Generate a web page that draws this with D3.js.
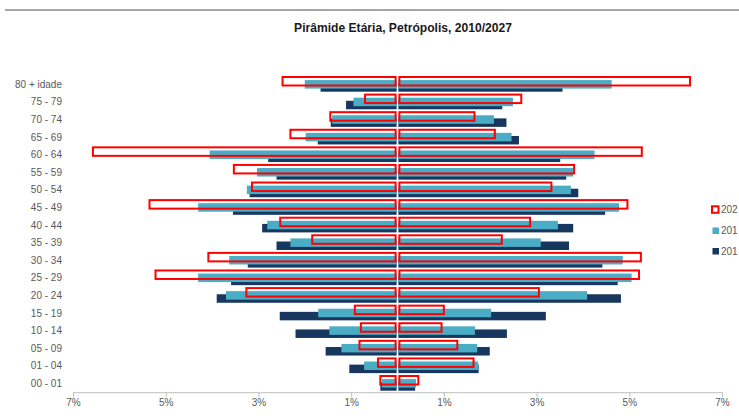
<!DOCTYPE html>
<html>
<head>
<meta charset="utf-8">
<script src="https://cdn.jsdelivr.net/npm/d3@7"></script>
<style>
  body { margin: 0; background: #fff; }
  svg { display: block; font-family: "Liberation Sans", Arial, sans-serif; }
</style>
</head>
<body>
<svg width="739" height="418"></svg>
<script>
  // age groups, top to bottom
  const ageGroups = ['80 + idade', '75 - 79', '70 - 74', '65 - 69', '60 - 64', '55 - 59', '50 - 54', '45 - 49',
    '40 - 44', '35 - 39', '30 - 34', '25 - 29', '20 - 24', '15 - 19', '10 - 14', '05 - 09', '01 - 04', '00 - 01']

  // % of population, left side and right side
  const left2010 = [1.66, 1.11, 1.44, 1.72, 2.79, 2.61, 3.19, 3.55, 2.92, 2.61, 3.23, 3.59, 3.90, 2.54, 2.20, 1.55, 1.04, 0.37]
  const right2010 = [3.56, 2.26, 2.35, 2.62, 3.51, 3.64, 3.90, 4.48, 3.79, 3.70, 4.42, 4.75, 4.82, 3.20, 2.36, 1.99, 1.75, 0.38]
  const left2017 = [2.00, 0.95, 1.41, 1.98, 4.05, 3.03, 3.25, 4.30, 2.81, 2.31, 3.63, 4.30, 3.70, 1.71, 1.47, 1.21, 0.72, 0.34]
  const right2017 = [4.62, 2.49, 2.08, 2.46, 4.25, 3.79, 3.74, 4.78, 3.46, 3.09, 4.86, 5.05, 4.09, 2.02, 1.67, 1.72, 1.74, 0.40]
  const left2027 = [2.48, 0.70, 1.45, 2.31, 6.57, 3.53, 3.14, 5.35, 2.53, 1.84, 4.08, 5.22, 3.26, 0.92, 0.79, 0.82, 0.42, 0.37]
  const right2027 = [6.31, 2.67, 1.66, 2.10, 5.27, 3.81, 3.32, 4.96, 2.86, 2.25, 5.25, 5.21, 3.05, 1.00, 0.95, 1.29, 1.64, 0.45]

  const tickValues = [-7, -5, -3, -1, 1, 3, 5, 7]
  // legend text as it shows in the picture (cut by the chart edge)
  const legendLabels = ['202', '201', '201']

  const navy = '#17375e'
  const aqua = '#4bacc6'
  const red = '#ff0000'

  const svg = d3.select('svg')

  const x = d3.scaleLinear().domain([-7, 7]).range([73, 722])
  const y = d3.scaleBand().domain(ageGroups).range([75.6, 392.2])
  const x0 = x(0)
  const gap = 0.9

  // top rule
  svg.append('line')
    .attr('x1', 5).attr('x2', 739).attr('y1', 10).attr('y2', 10)
    .attr('stroke', '#a6a6a6').attr('stroke-width', 2)

  // title, fitted to the width seen in the picture
  const title = svg.append('text')
    .attr('x', 403).attr('y', 31.5)
    .attr('text-anchor', 'middle')
    .attr('font-weight', 'bold')
    .attr('font-size', 12)
    .attr('fill', '#1a1a1a')
    .text('Pirâmide Etária, Petrópolis, 2010/2027')
  const tw = title.node().getComputedTextLength()
  title.attr('font-size', 12 * 218 / tw)

  // series: lowest bar first, red outline drawn last on top
  const series = [
    {left: left2010, right: right2010, off: -1.2, fill: navy, stroke: 'none', inset: 0},
    {left: left2017, right: right2017, off: -4.3, fill: aqua, stroke: 'none', inset: 0},
    {left: left2027, right: right2027, off: -7.4, fill: 'none', stroke: red, inset: 1}
  ]
  const barH = 8.5

  series.forEach(s => {
    const g = svg.append('g')
    const rows = ageGroups.map((a, i) => ({age: a, l: s.left[i], r: s.right[i]}))
    const cy = d => y(d.age) + y.bandwidth() / 2 + s.off

    g.selectAll('.l').data(rows).enter().append('rect')
      .attr('x', d => x(-d.l))
      .attr('y', cy)
      .attr('width', d => x0 - gap - s.inset - x(-d.l))
      .attr('height', barH)
      .attr('fill', s.fill)
      .attr('stroke', s.stroke)
      .attr('stroke-width', 2)

    g.selectAll('.r').data(rows).enter().append('rect')
      .attr('x', x0 + gap + s.inset)
      .attr('y', cy)
      .attr('width', d => x(d.r) - x0 - gap - s.inset)
      .attr('height', barH)
      .attr('fill', s.fill)
      .attr('stroke', s.stroke)
      .attr('stroke-width', 2)
  })

  // category labels
  svg.append('g').selectAll('text').data(ageGroups).enter().append('text')
    .attr('x', 62)
    .attr('y', d => y(d) + y.bandwidth() / 2 + 3.5)
    .attr('text-anchor', 'end')
    .attr('font-size', 10)
    .attr('fill', '#595959')
    .text(d => d)

  // x axis
  const xAxis = d3.axisBottom(x)
    .tickValues(tickValues)
    .tickSize(5)
    .tickSizeOuter(0)
    .tickFormat(d => Math.abs(d) + '%')

  svg.append('g')
    .attr('transform', 'translate(0,392.2)')
    .call(xAxis)
    .call(g => g.select('.domain').attr('stroke', '#bfbfbf'))
    .call(g => g.selectAll('.tick line').attr('stroke', '#bfbfbf'))
    .call(g => g.selectAll('.tick text')
      .attr('font-family', '"Liberation Sans", Arial, sans-serif')
      .attr('font-size', 10).attr('fill', '#595959').attr('dy', 13.5).attr('y', 0))

  // legend
  const legendY = [209.5, 230.5, 251]
  const lg = svg.append('g')
  legendLabels.forEach((lab, i) => {
    if (i == 0) {
      lg.append('rect').attr('x', 712).attr('y', legendY[i] - 3.2).attr('width', 6.5).attr('height', 6.5)
        .attr('fill', 'none').attr('stroke', red).attr('stroke-width', 2)
    } else {
      lg.append('rect').attr('x', 712.5).attr('y', legendY[i] - 3).attr('width', 6.5).attr('height', 6.5)
        .attr('fill', i == 1 ? aqua : navy)
    }
    lg.append('text')
      .attr('x', 721).attr('y', legendY[i] + 3.5)
      .attr('font-size', 10).attr('fill', '#595959')
      .text(lab)
  })
</script>
</body>
</html>
